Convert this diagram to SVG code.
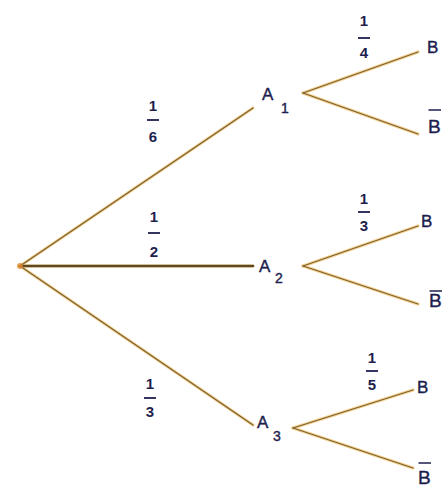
<svg xmlns="http://www.w3.org/2000/svg" width="444" height="488" viewBox="0 0 444 488">
<defs>
<style>
.glow{stroke:#f6c878;stroke-width:3.2;stroke-linecap:round;fill:none;opacity:0.8}
.ln{stroke:#7a6232;stroke-width:1.3;stroke-linecap:round;fill:none}
.thick{stroke:#5e4a1e;stroke-width:2.6}
.lbl{font-family:"Liberation Sans",Arial,sans-serif;font-size:17px;fill:#1e1e4e;stroke:#1e1e4e;stroke-width:0.4}
.lbl.nb{font-size:19px}
.sub{font-family:"Liberation Sans",Arial,sans-serif;font-size:14px;fill:#1e1e4e;stroke:#1e1e4e;stroke-width:0.4}
.num{font-family:"Liberation Sans",Arial,sans-serif;font-size:15px;font-weight:bold;fill:#1e1e4e;text-anchor:middle}
.bar{stroke:#1e1e4e;stroke-width:1.8}
.obar{stroke:#1e1e4e;stroke-width:1.5}
</style>
</defs>
<rect width="444" height="488" fill="#ffffff"/>
<g id="connectors">
<g class="glow">
<line x1="20" y1="266" x2="253" y2="108"/>
<line x1="20" y1="266" x2="253" y2="266"/>
<line x1="20" y1="266" x2="253" y2="425"/>
<line x1="303" y1="93" x2="418" y2="52"/>
<line x1="303" y1="93" x2="418" y2="134"/>
<line x1="303" y1="266" x2="418" y2="226"/>
<line x1="303" y1="266" x2="418" y2="304"/>
<line x1="293" y1="428" x2="413" y2="390"/>
<line x1="293" y1="428" x2="413" y2="468"/>
</g>
<g class="ln">
<line x1="20" y1="266" x2="253" y2="108"/>
<line class="thick" x1="20" y1="266" x2="253" y2="266"/>
<line x1="20" y1="266" x2="253" y2="425"/>
<line x1="303" y1="93" x2="418" y2="52"/>
<line x1="303" y1="93" x2="418" y2="134"/>
<line x1="303" y1="266" x2="418" y2="226"/>
<line x1="303" y1="266" x2="418" y2="304"/>
<line x1="293" y1="428" x2="413" y2="390"/>
<line x1="293" y1="428" x2="413" y2="468"/>
</g>
<circle cx="20" cy="266" r="3" fill="#e08a30" opacity="0.8"/>
<g id="prob-1-6"><text class="num" x="153" y="111">1</text><line class="bar" x1="147" y1="120" x2="159" y2="120"/><text class="num" x="153" y="142">6</text></g>
<g id="prob-1-2"><text class="num" x="154" y="222">1</text><line class="bar" x1="148" y1="233" x2="160" y2="233"/><text class="num" x="154" y="257">2</text></g>
<g id="prob-1-3a"><text class="num" x="150" y="389">1</text><line class="bar" x1="144" y1="398" x2="156" y2="398"/><text class="num" x="150" y="417">3</text></g>
<g id="prob-1-4"><text class="num" x="364" y="26">1</text><line class="bar" x1="358" y1="38" x2="370" y2="38"/><text class="num" x="364" y="58">4</text></g>
<g id="prob-1-3b"><text class="num" x="364" y="204">1</text><line class="bar" x1="358" y1="212" x2="370" y2="212"/><text class="num" x="364" y="231">3</text></g>
<g id="prob-1-5"><text class="num" x="372" y="363">1</text><line class="bar" x1="366" y1="371" x2="378" y2="371"/><text class="num" x="372" y="390">5</text></g>
</g>
<g id="A1"><text class="lbl" x="262" y="100">A</text><text class="sub" x="281" y="113">1</text></g>
<g id="A2"><text class="lbl" x="259" y="272">A</text><text class="sub" x="275" y="283">2</text></g>
<g id="A3"><text class="lbl" x="257" y="428">A</text><text class="sub" x="273" y="441">3</text></g>
<g id="B1"><text class="lbl" x="427" y="53">B</text></g>
<g id="Bbar1"><text class="lbl nb" x="428" y="133">B</text><line class="obar" x1="428.5" y1="110" x2="441" y2="110"/></g>
<g id="B2"><text class="lbl" x="421" y="227">B</text></g>
<g id="Bbar2"><text class="lbl nb" x="429" y="307">B</text><line class="obar" x1="429.5" y1="291" x2="442" y2="291"/></g>
<g id="B3"><text class="lbl" x="417" y="393">B</text></g>
<g id="Bbar3"><text class="lbl nb" x="418" y="484">B</text><line class="obar" x1="418.5" y1="463" x2="431" y2="463"/></g>
</svg>
